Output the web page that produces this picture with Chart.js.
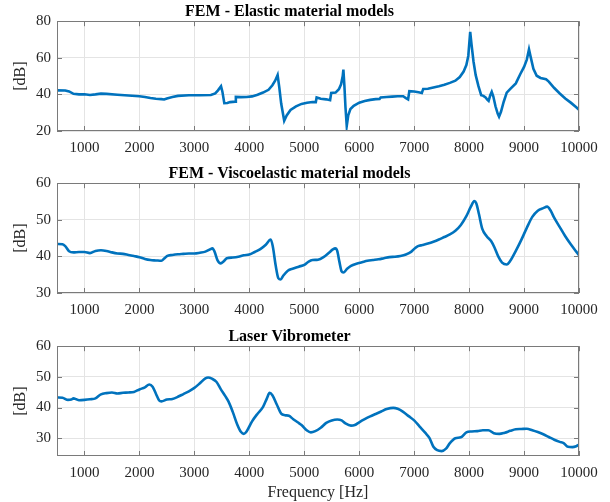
<!DOCTYPE html>
<html>
<head>
<meta charset="utf-8">
<script src="https://cdn.jsdelivr.net/npm/chart.js@4.4.1/dist/chart.umd.min.js"></script>
<style>
    html, body { margin: 0; padding: 0; background: #fff; }
    #wrap { position: relative; width: 610px; height: 502px; }
    .panel { position: absolute; left: 0; width: 610px; }
</style>
</head>
<body>
<div id="wrap">
    <div class="panel" style="top:0;height:162px"><canvas id="elastic"></canvas></div>
    <div class="panel" style="top:162px;height:162px"><canvas id="visco"></canvas></div>
    <div class="panel" style="top:324px;height:178px"><canvas id="laser"></canvas></div>
</div>
<script>
// x ticks shared by all three panels
const freqTicks = [1000, 2000, 3000, 4000, 5000, 6000, 7000, 8000, 9000, 10000];

// FEM - Elastic material models
const freqElastic = [500, 650, 720, 800, 900, 1000, 1100, 1200, 1300, 1400, 1600, 1800, 2000, 2100, 2200, 2300, 2400, 2450, 2500, 2600,
    2700, 2900, 3100, 3300, 3380, 3430, 3485, 3510, 3545, 3600, 3650, 3700, 3740, 3755, 3850, 3950, 4050, 4150, 4250, 4350,
    4420, 4470, 4515, 4545, 4580, 4635, 4680, 4750, 4850, 4950, 5050, 5150, 5210, 5225, 5300, 5400, 5470, 5490, 5570, 5630,
    5670, 5700, 5712, 5730, 5750, 5773, 5800, 5840, 5900, 6000, 6100, 6200, 6300, 6370, 6390, 6500, 6600, 6700, 6800, 6850,
    6890, 6912, 7000, 7080, 7140, 7165, 7250, 7350, 7450, 7550, 7650, 7750, 7830, 7900, 7950, 7985, 8020, 8045, 8080, 8120,
    8170, 8220, 8260, 8300, 8330, 8355, 8385, 8412, 8440, 8480, 8520, 8545, 8580, 8630, 8685, 8750, 8850, 8930, 9000, 9050,
    9090, 9120, 9170, 9230, 9300, 9400, 9450, 9550, 9650, 9750, 9850, 9950, 10000];
const dbElastic = [42.2, 42.1, 41.6, 40.3, 40.0, 40.1, 39.7, 40.0, 40.4, 40.3, 39.8, 39.4, 39.0, 38.6, 38.0, 37.6, 37.4, 37.2, 37.8, 38.6,
    39.2, 39.5, 39.5, 39.7, 40.5, 42.2, 44.5, 41.5, 35.2, 35.3, 35.8, 35.9, 36.0, 38.6, 38.5, 38.6, 38.9, 39.8, 41.0, 42.5,
    45.0, 47.5, 50.6, 44.0, 35.0, 25.6, 28.5, 31.5, 33.5, 34.8, 35.4, 35.8, 35.8, 38.3, 37.6, 37.3, 36.8, 40.8, 41.0, 42.8,
    45.5, 50.0, 53.6, 45.0, 33.0, 22.8, 28.5, 32.0, 33.8, 35.5, 36.4, 37.0, 37.4, 37.5, 38.3, 38.6, 38.8, 39.0, 39.0, 38.0,
    37.3, 41.8, 41.6, 41.2, 40.8, 43.0, 43.1, 43.8, 44.5, 45.3, 46.3, 47.5, 49.5, 52.5, 56.0, 61.0, 74.2, 67.0, 58.0, 50.5,
    44.5, 39.6, 39.2, 38.3, 37.2, 36.5, 39.5, 41.4, 39.0, 33.5, 29.5, 27.8, 30.5, 36.0, 41.0, 43.0, 46.0, 51.0, 55.0, 59.0,
    64.6, 60.5, 54.0, 50.2, 49.0, 48.3, 47.0, 43.5, 40.5, 37.8, 35.5, 33.0, 31.6];
const yTicksElastic = [20, 40, 60, 80];

// FEM - Viscoelastic material models
const freqVisco = [500, 600, 650, 720, 800, 900, 1000, 1100, 1200, 1300, 1400, 1500, 1600, 1700, 1800, 1900, 2000, 2100, 2200, 2300,
    2400, 2450, 2500, 2600, 2700, 2800, 2900, 3000, 3100, 3200, 3280, 3330, 3370, 3420, 3480, 3530, 3590, 3700, 3800, 3900,
    4000, 4100, 4200, 4300, 4390, 4430, 4480, 4530, 4570, 4620, 4700, 4800, 4900, 5000, 5080, 5150, 5250, 5350, 5450, 5520,
    5565, 5600, 5640, 5680, 5710, 5780, 5850, 5950, 6050, 6150, 6250, 6350, 6450, 6550, 6650, 6750, 6850, 6950, 7020, 7070,
    7150, 7250, 7350, 7450, 7550, 7650, 7750, 7850, 7950, 8030, 8095, 8130, 8180, 8240, 8320, 8400, 8460, 8530, 8600, 8685,
    8750, 8850, 8950, 9050, 9150, 9250, 9350, 9420, 9480, 9550, 9650, 9750, 9850, 9950, 10000];
const dbVisco = [43.4, 43.3, 42.8, 41.4, 41.1, 41.2, 41.2, 40.9, 41.5, 41.7, 41.5, 41.1, 40.8, 40.7, 40.4, 40.1, 39.8, 39.3, 39.0, 38.9,
    38.8, 39.4, 40.1, 40.4, 40.6, 40.7, 40.8, 40.8, 41.0, 41.3, 41.9, 42.2, 41.2, 39.0, 38.1, 38.6, 39.5, 39.7, 39.9, 40.3,
    40.5, 41.2, 42.0, 43.2, 44.6, 42.5, 37.5, 34.0, 33.7, 34.8, 36.1, 36.7, 37.2, 37.7, 38.6, 39.0, 39.1, 39.8, 41.0, 41.9,
    42.2, 41.5, 38.5, 35.9, 35.6, 36.6, 37.4, 38.0, 38.4, 38.8, 39.0, 39.2, 39.5, 39.8, 39.9, 40.1, 40.5, 41.3, 42.3, 42.8,
    43.1, 43.5, 44.0, 44.6, 45.3, 46.0, 47.0, 48.6, 51.0, 53.5, 55.1, 54.5, 51.5, 47.5, 45.5, 44.2, 42.5, 40.0, 38.3, 37.8,
    38.8, 41.5, 44.5, 47.8, 50.8, 52.5, 53.2, 53.6, 52.6, 50.5, 48.0, 45.5, 43.3, 41.3, 40.3];
const yTicksVisco = [30, 40, 50, 60];

// Laser Vibrometer
const freqLaser = [500, 600, 700, 760, 800, 850, 900, 1000, 1100, 1200, 1300, 1400, 1500, 1600, 1700, 1800, 1900, 2000, 2100, 2180,
    2240, 2300, 2360, 2400, 2500, 2600, 2700, 2800, 2900, 3000, 3100, 3200, 3250, 3320, 3400, 3480, 3560, 3620, 3700, 3780,
    3850, 3900, 3950, 4050, 4150, 4250, 4320, 4370, 4420, 4500, 4580, 4650, 4720, 4800, 4880, 4950, 5050, 5120, 5200, 5300,
    5400, 5500, 5600, 5680, 5750, 5850, 5920, 6000, 6100, 6200, 6300, 6400, 6500, 6620, 6700, 6800, 6900, 7000, 7100, 7200,
    7280, 7350, 7420, 7500, 7580, 7650, 7750, 7850, 7950, 8050, 8150, 8250, 8350, 8450, 8550, 8650, 8750, 8850, 8950, 9050,
    9150, 9250, 9350, 9450, 9550, 9650, 9720, 9800, 9880, 9950, 10000];
const dbLaser = [43.3, 43.2, 42.5, 42.6, 43.0, 42.7, 42.4, 42.5, 42.7, 43.0, 44.3, 44.7, 44.9, 44.6, 44.8, 44.9, 45.1, 45.9, 46.6, 47.5,
    46.8, 44.5, 42.3, 42.0, 42.6, 42.8, 43.5, 44.4, 45.3, 46.4, 47.9, 49.5, 49.8, 49.4, 48.4, 46.0, 43.8, 42.0, 38.5, 34.5,
    32.0, 31.4, 32.2, 35.5, 38.0, 40.2, 43.0, 44.8, 44.0, 41.0, 38.0, 37.5, 37.3, 36.2, 35.2, 34.3, 32.5, 31.9, 32.3, 33.4,
    35.0, 35.8, 36.1, 35.8, 34.8, 34.1, 34.3, 35.2, 36.2, 37.1, 37.9, 38.7, 39.5, 39.9, 39.6, 38.6, 37.2, 35.8, 33.8, 31.8,
    30.0, 27.2, 26.1, 25.8, 26.6, 28.4, 30.0, 30.3, 31.9, 32.2, 32.3, 32.6, 32.6, 31.6, 31.4, 31.8, 32.4, 32.9, 33.0, 33.1,
    32.6, 32.0, 31.3, 30.4, 29.5, 28.8, 28.4, 27.2, 27.1, 27.4, 27.9];
const yTicksLaser = [30, 40, 50, 60];

const FONT = "'Liberation Serif', 'Times New Roman', serif";
const TEXT = "#262626";

// MATLAB-like box with inward ticks on all four sides
const matlabBox = {
    id: "matlabBox",
    afterDatasetsDraw(chart) {
        const { ctx, chartArea: a, scales } = chart;
        const len = 5;
        ctx.save();
        ctx.strokeStyle = "#7a7a7a";
        ctx.lineWidth = 1;
        ctx.beginPath();
        scales.x.ticks.forEach(t => {
            const px = Math.round(scales.x.getPixelForValue(t.value)) + 0.5;
            ctx.moveTo(px, a.bottom); ctx.lineTo(px, a.bottom - len);
            ctx.moveTo(px, a.top); ctx.lineTo(px, a.top + len);
        });
        scales.y.ticks.forEach(t => {
            const py = Math.round(scales.y.getPixelForValue(t.value)) + 0.5;
            ctx.moveTo(a.left, py); ctx.lineTo(a.left + len, py);
            ctx.moveTo(a.right, py); ctx.lineTo(a.right - len, py);
        });
        ctx.stroke();
        ctx.strokeRect(Math.round(a.left) + 0.5, Math.round(a.top) + 0.5, Math.round(a.width) - 1, Math.round(a.height) - 1);
        ctx.restore();
    }
};

function makeChart(id, title, xs, ys, yMin, yMax, yTicks, opts) {
    const points = xs.map((f, i) => ({ x: f, y: ys[i] }));
    return new Chart(document.getElementById(id), {
        type: "line",
        data: {
            datasets: [{
                data: points,
                borderColor: "#0072BD",
                borderWidth: 2.6,
                pointRadius: 0,
                tension: 0,
                cubicInterpolationMode: opts.smooth ? "monotone" : "default"
            }]
        },
        options: {
            responsive: true,
            maintainAspectRatio: false,
            animation: false,
            events: [],
            layout: { padding: { left: 0, right: 31, top: opts.topPad, bottom: 0 } },
            plugins: {
                legend: { display: false },
                tooltip: { enabled: false },
                title: {
                    display: true,
                    text: title,
                    color: "#000",
                    font: { family: FONT, size: 16, weight: "bold", lineHeight: 1.2 },
                    padding: { top: 2, bottom: 0 }
                }
            },
            scales: {
                x: {
                    type: "linear",
                    min: 500,
                    max: 10000,
                    afterBuildTicks: s => { s.ticks = freqTicks.map(v => ({ value: v })); },
                    afterFit: s => { s.height = opts.xHeight; },
                    grid: { color: "#e4e4e4", drawTicks: false },
                    border: { display: false },
                    ticks: {
                        color: TEXT,
                        font: { family: FONT, size: 15 },
                        padding: 8,
                        maxRotation: 0,
                        autoSkip: false,
                        callback: v => String(v)
                    },
                    title: {
                        display: !!opts.xTitle,
                        text: opts.xTitle || "",
                        color: TEXT,
                        font: { family: FONT, size: 16 },
                        padding: { top: 1, bottom: 0 }
                    }
                },
                y: {
                    min: yMin,
                    max: yMax,
                    afterBuildTicks: s => { s.ticks = yTicks.map(v => ({ value: v })); },
                    afterFit: s => { s.width = 57; },
                    grid: { color: "#e4e4e4", drawTicks: false },
                    border: { display: false },
                    ticks: {
                        color: TEXT,
                        font: { family: FONT, size: 15 },
                        padding: 6,
                        callback: v => String(v)
                    },
                    title: {
                        display: true,
                        text: "[dB]",
                        color: TEXT,
                        font: { family: FONT, size: 16 },
                        padding: { top: 11, bottom: 0 }
                    }
                }
            }
        },
        plugins: [matlabBox]
    });
}

makeChart("elastic", "FEM - Elastic material models", freqElastic, dbElastic, 20, 80, yTicksElastic,
    { smooth: false, topPad: 0, xHeight: 31 });
makeChart("visco", "FEM - Viscoelastic material models", freqVisco, dbVisco, 30, 60, yTicksVisco,
    { smooth: true, topPad: 0, xHeight: 31 });
makeChart("laser", "Laser Vibrometer", freqLaser, dbLaser, 24.2, 60, yTicksLaser,
    { smooth: true, topPad: 1, xHeight: 46, xTitle: "Frequency [Hz]" });
</script>
</body>
</html>
